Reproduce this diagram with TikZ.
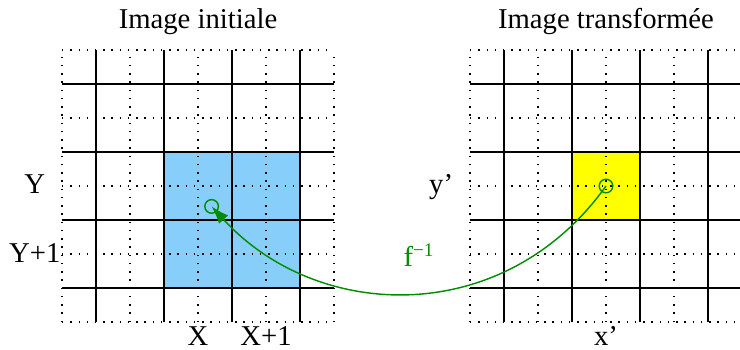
\documentclass[tikz,border=0pt]{standalone}
\usepackage{fontspec}
\setmainfont{Liberation Serif}
\usetikzlibrary{arrows.meta}

\definecolor{cellblue}{RGB}{135,206,250}
\definecolor{cellyellow}{RGB}{255,255,0}
\definecolor{mapgreen}{RGB}{0,140,0}

\begin{document}
\begin{tikzpicture}[
    x=0.5cm, y=0.5cm,
    >=Latex,
    every node/.style={font=\fontsize{12}{14}\selectfont},
    fine/.style={line width=0.5pt, dash pattern=on 0.6pt off 2.85pt},
    bold/.style={line width=1pt},
    pix/.style={
        draw=mapgreen,
        circle,
        line width=0.6pt,
        inner sep=0pt,
        minimum size=0.2cm
    }
]
\useasboundingbox (-1.824,-0.794) rectangle (19.941,9.471);

% cells
\fill[cellblue]   (3,1) rectangle (7,5);
\fill[cellyellow] (15,3) rectangle (17,5);

% both grids
\foreach \dx in {0,12} {
    \foreach \k in {0,2,...,8} {
        \draw[fine] (\dx+\k,0) -- (\dx+\k,8);
        \draw[fine] (\dx,\k) -- (\dx+8,\k);
    }
    \foreach \k in {1,3,5,7} {
        \draw[bold] (\dx+\k,0) -- (\dx+\k,8);
        \draw[bold] (\dx,\k) -- (\dx+8,\k);
    }
}

% titles and indices
\node[anchor=base] (titleA) at (4,8.62)  {Image initiale};
\node[anchor=base] (titleB) at (16,8.62) {Image transformée};

\node[anchor=base] (rowY)  at (-0.8,3.79)  {Y};
\node[anchor=base] (rowY1) at (-0.8,1.76)  {Y+1};
\node[anchor=base] (colX)  at (4,-0.68)    {X};
\node[anchor=base] (colX1) at (6,-0.68)    {X+1};
\node[anchor=base] (rowy)  at (11.15,3.79) {y’};
\node[anchor=base] (colx)  at (16,-0.68)   {x’};

% points
\node[pix] (pA) at (4.4,3.4) {};
\node[pix] (pB) at (16,4) {};

\draw[-{Latex[length=2.6mm,width=1.8mm]}, mapgreen, line width=0.6pt]
    (pB.center) .. controls (13,-0.2) and (7.5,0) .. (pA.center);
\node[anchor=base west, text=mapgreen] (finv) at (9.8,1.62)
    {f\textsuperscript{\textminus 1}};

\end{tikzpicture}
\end{document}
